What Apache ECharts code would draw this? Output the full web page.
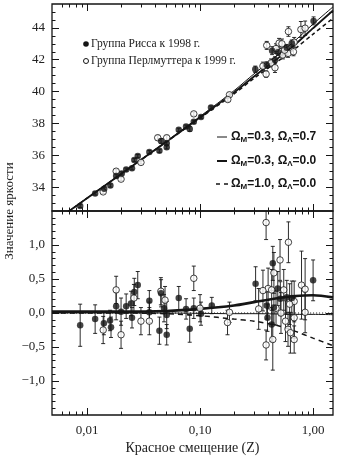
<!DOCTYPE html>
<html>
<head>
<meta charset="utf-8">
<script src="https://cdn.jsdelivr.net/npm/echarts@6/dist/echarts.min.js"></script>
<style>
html,body{margin:0;padding:0;background:#fff}
#chart{width:340px;height:456px}
</style>
</head>
<body>
<div id="chart"></div>
<script>
// Hubble diagram of type Ia supernovae: distance modulus (upper panel)
// and its deviation from the Ω_M=0.3, Ω_Λ=0.0 model (lower panel).

const zRange = [0.0049, 1.5];
const muRange = [32.5, 45.5];
const resRange = [-1.5, 1.5];

// tick positions
const zMajorTicks = [0.01, 0.1, 1];
const zMinorTicks = [0.006, 0.007, 0.008, 0.009,
  0.02, 0.03, 0.04, 0.05, 0.06, 0.07, 0.08, 0.09,
  0.2, 0.3, 0.4, 0.5, 0.6, 0.7, 0.8, 0.9];
const muMajorTicks = [34, 36, 38, 40, 42, 44];
const muMinorTicks = [33, 33.5, 34.5, 35, 35.5, 36.5, 37, 37.5, 38.5, 39, 39.5,
  40.5, 41, 41.5, 42.5, 43, 43.5, 44.5, 45];
const resMajorTicks = [-1.0, -0.5, 0.0, 0.5, 1.0];
const resMinorTicks = [-1.4, -1.3, -1.2, -1.1, -0.9, -0.8, -0.7, -0.6, -0.4, -0.3, -0.2, -0.1,
  0.1, 0.2, 0.3, 0.4, 0.6, 0.7, 0.8, 0.9, 1.1, 1.2, 1.3, 1.4];

// Riess group (1998): [z, distance modulus, error]
const riessMu = [
  [0.0087, 32.82, 0.10], [0.0118, 33.60, 0.10], [0.0142, 33.90, 0.10], [0.0161, 34.10, 0.10],
  [0.0181, 34.70, 0.12], [0.0203, 34.86, 0.10], [0.0222, 35.10, 0.10], [0.0250, 35.18, 0.10],
  [0.0262, 35.70, 0.10], [0.0281, 35.95, 0.10], [0.0356, 36.20, 0.10], [0.0437, 36.28, 0.10],
  [0.0452, 36.90, 0.15], [0.0507, 36.75, 0.10], [0.0507, 36.50, 0.10], [0.0648, 37.60, 0.10],
  [0.0752, 37.80, 0.10], [0.0811, 37.65, 0.15], [0.0880, 38.10, 0.10], [0.1020, 38.40, 0.10],
  [0.1250, 39.00, 0.10], [0.308, 41.40, 0.20], [0.389, 41.67, 0.20], [0.434, 42.57, 0.25],
  [0.461, 41.99, 0.20], [0.490, 42.47, 0.20], [0.585, 42.76, 0.20], [0.648, 43.04, 0.20],
  [1.010, 44.44, 0.25]
];
// Perlmutter group (1999): [z, distance modulus, error]
const perlMu = [
  [0.0139, 33.70, 0.10], [0.0181, 35.00, 0.12], [0.0200, 34.50, 0.10], [0.0300, 35.55, 0.10],
  [0.0422, 37.10, 0.15], [0.0507, 37.10, 0.15], [0.0880, 38.60, 0.12], [0.182, 39.80, 0.12],
  [0.176, 39.50, 0.12], [0.389, 42.90, 0.25], [0.384, 41.10, 0.20], [0.425, 41.80, 0.25],
  [0.460, 41.50, 0.30], [0.500, 43.04, 0.30], [0.540, 42.30, 0.25], [0.605, 43.77, 0.30],
  [0.600, 42.40, 0.25], [0.670, 42.50, 0.25], [0.780, 43.90, 0.50], [0.850, 43.98, 0.45],
  [0.680, 43.10, 0.30], [0.530, 43.00, 0.30], [0.470, 42.70, 0.30], [0.560, 42.60, 0.30],
  [0.360, 41.60, 0.25]
];

// residuals: [z, Δ, error]
const riessRes = [
  [0.0087, -0.18, 0.31], [0.0118, -0.09, 0.21], [0.0141, -0.15, 0.17], [0.0160, -0.11, 0.15],
  [0.0163, -0.21, 0.15], [0.0181, 0.10, 0.20], [0.0200, 0.02, 0.20], [0.0222, 0.10, 0.18],
  [0.0245, 0.14, 0.18], [0.0262, 0.31, 0.20], [0.0281, 0.41, 0.20], [0.0250, -0.07, 0.15],
  [0.0356, 0.18, 0.15], [0.0356, 0.01, 0.15], [0.0437, -0.26, 0.20], [0.0452, 0.29, 0.20],
  [0.0480, 0.07, 0.20], [0.0507, -0.03, 0.20], [0.0507, -0.32, 0.15], [0.0648, 0.22, 0.17],
  [0.0752, 0.06, 0.15], [0.0810, -0.23, 0.20], [0.0880, 0.07, 0.15], [0.1020, -0.01, 0.17],
  [0.1270, 0.11, 0.12], [0.310, 0.43, 0.25], [0.389, 0.11, 0.20], [0.395, -0.07, 0.20],
  [0.440, 0.73, 0.25], [0.450, 0.08, 0.25], [0.430, -0.17, 0.25], [0.487, 0.36, 0.25],
  [0.513, 0.21, 0.25], [0.585, 0.23, 0.25], [0.648, 0.22, 0.25], [1.000, 0.48, 0.30]
];
const perlRes = [
  [0.0181, 0.34, 0.20], [0.0200, -0.32, 0.20], [0.0139, -0.25, 0.20], [0.0260, 0.22, 0.20],
  [0.0300, -0.12, 0.20], [0.0356, -0.12, 0.20], [0.0450, 0.32, 0.20], [0.0490, 0.19, 0.20],
  [0.0880, 0.51, 0.18], [0.1000, 0.07, 0.20], [0.182, 0.01, 0.15], [0.175, -0.14, 0.18],
  [0.330, 0.06, 0.30], [0.384, 1.33, 0.25], [0.384, -0.47, 0.22], [0.400, 0.36, 0.30],
  [0.440, -0.39, 0.45], [0.450, 0.59, 0.30], [0.510, 0.78, 0.30], [0.605, 1.04, 0.30],
  [0.600, -0.24, 0.25], [0.630, -0.29, 0.30], [0.680, -0.39, 0.20], [0.680, -0.07, 0.30],
  [0.680, 0.17, 0.30], [0.790, 0.41, 0.50], [0.850, 0.35, 0.45], [0.850, 0.01, 0.30],
  [0.430, 0.34, 0.30], [0.470, 0.07, 0.25], [0.550, 0.34, 0.30], [0.360, 0.33, 0.30],
  [0.520, 0.00, 0.30], [0.570, -0.12, 0.30], [0.620, 0.13, 0.30]
];

// cosmological model curves
const curveMuZ = [0.0068, 0.01, 0.02, 0.05, 0.1, 0.2, 0.3, 0.5, 0.7, 1.0, 1.5];
const muLambda = [32.47, 33.32, 34.84, 36.86, 38.44, 40.06, 41.11, 42.37, 43.23, 44.24, 45.32];
const muOpen   = [32.45, 33.30, 34.82, 36.83, 38.38, 39.95, 40.95, 42.15, 42.98, 43.98, 45.09];
const muMatter = [32.45, 33.30, 34.82, 36.82, 38.34, 39.86, 40.83, 41.96, 42.72, 43.61, 44.61];

const curveResZ = [0.0049, 0.01, 0.02, 0.05, 0.1, 0.2, 0.3, 0.5, 0.7, 1.0, 1.5];
const resLambda = [0.02, 0.02, 0.02, 0.03, 0.06, 0.11, 0.16, 0.22, 0.25, 0.26, 0.23];
const resOpen   = [0.00, 0.00, 0.00, 0.00, -0.005, -0.01, -0.01, -0.015, -0.02, -0.02, -0.025];
const resMatter = [0.00, 0.00, 0.00, -0.01, -0.04, -0.09, -0.12, -0.19, -0.27, -0.37, -0.48];
const zeroLine = [0, 0];

const INK = '#151515';
const SERIF = '"Liberation Serif", "DejaVu Serif", serif';
const SANS = '"Liberation Sans", Arial, sans-serif';

const chart = echarts.init(document.getElementById('chart'), null, { renderer: 'canvas' });

function pairs(xs, ys) { return xs.map((x, i) => [x, ys[i]]); }

function errorBars(params, api) {
  const z = api.value(0), v = api.value(1), e = api.value(2);
  const r = params.coordSys;
  const top = r.y, bot = r.y + r.height;
  const hi = api.coord([z, v + e]);
  const lo = api.coord([z, v - e]);
  const x = hi[0];
  const y1 = Math.max(hi[1], top), y2 = Math.min(lo[1], bot);
  const kids = [{ type: 'line', shape: { x1: x, y1: y1, x2: x, y2: y2 }, style: { stroke: INK, lineWidth: 0.9 } }];
  if (hi[1] >= top) kids.push({ type: 'line', shape: { x1: x - 2, y1: hi[1], x2: x + 2, y2: hi[1] }, style: { stroke: INK, lineWidth: 0.9 } });
  if (lo[1] <= bot) kids.push({ type: 'line', shape: { x1: x - 2, y1: lo[1], x2: x + 2, y2: lo[1] }, style: { stroke: INK, lineWidth: 0.9 } });
  return { type: 'group', children: kids };
}

// each panel owns four x axes and four y axes (major/minor ticks on both sides);
// series are attached to the first axis of each group
const AX_PER_GRID = 4;

function errSeries(g, data) {
  return { type: 'custom', xAxisIndex: g * AX_PER_GRID, yAxisIndex: g * AX_PER_GRID, silent: true, z: 3,
    renderItem: errorBars, data: data };
}

function dots(g, data, filled) {
  return {
    type: 'scatter', xAxisIndex: g * AX_PER_GRID, yAxisIndex: g * AX_PER_GRID, z: 4,
    symbol: 'circle', symbolSize: 6.5,
    data: data.map(d => [d[0], d[1]]),
    itemStyle: filled ? { color: INK } : { color: '#fff', borderColor: INK, borderWidth: 1 }
  };
}

function curve(g, data, width, type) {
  return {
    type: 'line', xAxisIndex: g * AX_PER_GRID, yAxisIndex: g * AX_PER_GRID, z: 2, data: data, smooth: 0.3,
    showSymbol: false, silent: true, clip: true,
    lineStyle: { color: INK, width: width, type: type || 'solid' }
  };
}

function axisGroup(dim, g, base, major, minor, label, extra) {
  const sides = dim === 'x' ? ['bottom', 'top'] : ['left', 'right'];
  const out = [];
  sides.forEach((pos, si) => {
    [[major, 7], [minor, 3.5]].forEach((t, ti) => {
      const ax = Object.assign({}, base, {
        gridIndex: g, position: pos,
        axisLine: { show: false, onZero: false },
        splitLine: { show: false },
        minorTick: { show: false },
        axisTick: { show: true, inside: true, length: t[1], customValues: t[0],
          lineStyle: { color: INK, width: 1 } },
        axisLabel: (si === 0 && ti === 0 && label) ? label : { show: false }
      });
      if (si === 0 && ti === 0 && extra) Object.assign(ax, extra);
      out.push(ax);
    });
  });
  return out;
}

const xBase = { type: 'log', logBase: 10, min: zRange[0], max: zRange[1] };
const labelFont = { fontFamily: SERIF, fontSize: 13, color: '#222' };

const xAxes = axisGroup('x', 0, xBase, zMajorTicks, zMinorTicks, null, null)
  .concat(axisGroup('x', 1, xBase, zMajorTicks, zMinorTicks,
    Object.assign({ margin: 9, customValues: zMajorTicks,
      formatter: v => v.toFixed(2).replace('.', ',') }, labelFont),
    { name: 'Красное смещение (Z)', nameLocation: 'middle', nameGap: 26,
      nameTextStyle: { fontFamily: SERIF, fontSize: 14, color: '#222' } }));

const yAxes = axisGroup('y', 0, { type: 'value', min: muRange[0], max: muRange[1] },
    muMajorTicks, muMinorTicks,
    Object.assign({ margin: 7, customValues: muMajorTicks, formatter: v => String(v) }, labelFont), null)
  .concat(axisGroup('y', 1, { type: 'value', min: resRange[0], max: resRange[1] },
    resMajorTicks, resMinorTicks,
    Object.assign({ margin: 7, customValues: resMajorTicks,
      formatter: v => (v < 0 ? '\u2212' : '') + Math.abs(v).toFixed(1).replace('.', ',') }, labelFont), null));

// legend keys and the shared vertical title
const labels = [
  {
    type: 'text', x: 10, y: 211, rotation: Math.PI / 2,
    style: { text: 'Значение яркости', fontFamily: SERIF, fontSize: 13, fill: '#222',
      align: 'center', verticalAlign: 'middle' }
  },
  { type: 'circle', shape: { cx: 86, cy: 44, r: 2.8 }, style: { fill: INK } },
  { type: 'text', x: 91, y: 44, style: { text: 'Группа Рисса к 1998 г.', fontFamily: SERIF, fontSize: 11.5, fill: '#222', verticalAlign: 'middle' } },
  { type: 'circle', shape: { cx: 86, cy: 61, r: 2.5 }, style: { fill: '#fff', stroke: INK, lineWidth: 1 } },
  { type: 'text', x: 91, y: 61, style: { text: 'Группа Перлмуттера к 1999 г.', fontFamily: SERIF, fontSize: 11.5, fill: '#222', verticalAlign: 'middle' } },
  { type: 'line', shape: { x1: 217, y1: 137, x2: 227, y2: 137 }, style: { stroke: INK, lineWidth: 1 } },
  { type: 'line', shape: { x1: 217, y1: 161, x2: 227, y2: 161 }, style: { stroke: INK, lineWidth: 2 } },
  { type: 'line', shape: { x1: 216, y1: 184, x2: 228, y2: 184 }, style: { stroke: INK, lineWidth: 1.6, lineDash: [4, 4] } }
].concat([['0.3', '0.7', 137], ['0.3', '0.0', 161], ['1.0', '0.0', 184]].map(m => ({
  type: 'text', x: 231, y: m[2],
  style: {
    text: '{a|Ω}{s|M}{a|=' + m[0] + ', Ω}{s|Λ}{a|=' + m[1] + '}',
    verticalAlign: 'middle', fill: INK,
    rich: {
      a: { fontFamily: SANS, fontWeight: 'bold', fontSize: 12, fill: INK },
      s: { fontFamily: SANS, fontWeight: 'bold', fontSize: 8, fill: INK, verticalAlign: 'bottom', padding: [5, 0, 0, 0] }
    }
  }
})));

const option = {
  backgroundColor: '#fff',
  animation: false,
  grid: [
    { left: 52, right: 7, top: 4, height: 207, show: true, borderColor: INK, borderWidth: 1.3 },
    { left: 52, right: 7, top: 211, height: 207, show: true, borderColor: INK, borderWidth: 1.3 }
  ],
  xAxis: xAxes,
  yAxis: yAxes,
  graphic: labels,
  series: [
    // upper panel
    curve(0, pairs(curveMuZ, muMatter), 1.5, [4, 3]),
    curve(0, pairs(curveMuZ, muOpen), 1.8),
    curve(0, pairs(curveMuZ, muLambda), 1),
    errSeries(0, riessMu), errSeries(0, perlMu),
    dots(0, perlMu, false), dots(0, riessMu, true),
    // lower panel
    curve(1, pairs(zRange, zeroLine), 1, [1, 2]),
    curve(1, pairs(curveResZ, resOpen), 1),
    curve(1, pairs(curveResZ, resMatter), 1.5, [5, 4]),
    curve(1, pairs(curveResZ, resLambda), 2.6),
    errSeries(1, riessRes), errSeries(1, perlRes),
    dots(1, perlRes, false), dots(1, riessRes, true)
  ]
};

chart.setOption(option);
</script>
</body>
</html>
